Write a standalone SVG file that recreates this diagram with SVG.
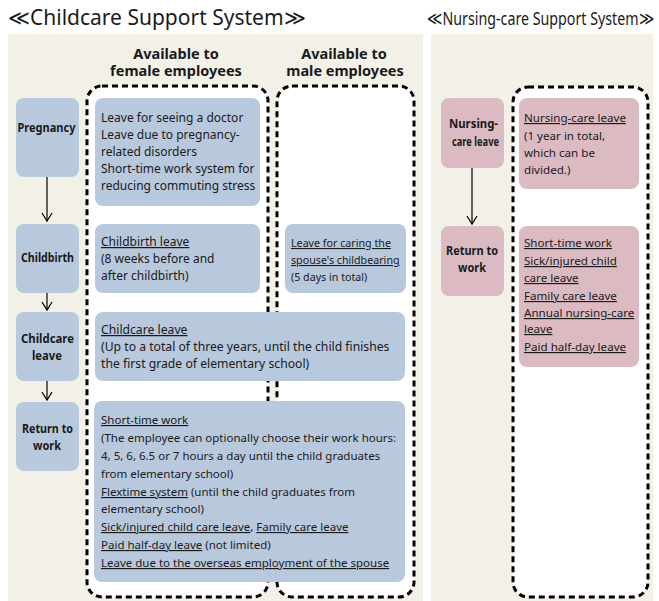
<svg xmlns="http://www.w3.org/2000/svg" width="659" height="601" viewBox="0 0 659 601">
<style>
text{font-family:"Noto Sans","Liberation Sans",sans-serif;fill:#1a1a1a}
.title{font-size:21px}
.hdr{font-size:14.5px;font-weight:bold;text-anchor:middle}
.stage{font-size:12px;font-weight:bold;text-anchor:middle}
.body{font-size:12px}
.cc{font-size:12.2px}
.rt{font-size:11.5px}
.pk{font-size:11.6px}
.small{font-size:10.7px}
.u{text-decoration:underline}
.panel{fill:#f3f0e8}
.dash{fill:#fff;stroke:#000;stroke-width:3;stroke-dasharray:6 4}
.blue{fill:#b9c9dd}
.pink{fill:#dcbac2}
.conn line{stroke:#000;stroke-width:1.2}
</style>
<defs>
<marker id="arr" markerWidth="12" markerHeight="12" refX="9" refY="6" orient="auto" markerUnits="userSpaceOnUse">
<path d="M1,1 L9,6 L1,11" fill="none" stroke="#000" stroke-width="1.2"/>
</marker>
</defs>
<rect width="659" height="601" fill="#fff"/>
<g id="panels">
<rect class="panel" x="8" y="34" width="415" height="567"/>
<rect class="panel" x="431" y="34" width="222" height="567"/>
</g>
<text class="title" x="8" y="25">≪Childcare Support System≫</text>
<text class="title" x="427" y="25" style="font-size:18.5px" textLength="227" lengthAdjust="spacingAndGlyphs">≪Nursing-care Support System≫</text>
<g id="headers">
<text class="hdr" x="176" y="58.5">Available to</text>
<text class="hdr" x="176" y="76">female employees</text>
<text class="hdr" x="344" y="58.5">Available to</text>
<text class="hdr" x="345" y="76">male employees</text>
</g>
<g id="dashed-boxes">
<rect class="dash" x="87" y="86" width="181" height="511" rx="15"/>
<rect class="dash" x="277" y="86" width="137" height="511" rx="15"/>
<rect class="dash" x="513" y="87" width="135" height="510" rx="15"/>
</g>
<g class="conn" id="connectors">
<line x1="47" y1="177" x2="47" y2="221" marker-end="url(#arr)"/>
<line x1="47" y1="293" x2="47" y2="310" marker-end="url(#arr)"/>
<line x1="47" y1="381" x2="47" y2="400" marker-end="url(#arr)"/>
<line x1="472" y1="168" x2="472" y2="224" marker-end="url(#arr)"/>
</g>
<g id="pregnancy">
<rect class="blue" x="16" y="98" width="63" height="79" rx="8"/>
<text class="stage" x="46.5" y="132" textLength="58" lengthAdjust="spacingAndGlyphs">Pregnancy</text>
</g>
<g id="childbirth">
<rect class="blue" x="16" y="224" width="63" height="69" rx="8"/>
<text class="stage" x="47.5" y="262" textLength="53" lengthAdjust="spacingAndGlyphs">Childbirth</text>
</g>
<g id="childcare-leave">
<rect class="blue" x="16" y="312" width="63" height="69" rx="8"/>
<text class="stage" x="47.5" y="343" textLength="53" lengthAdjust="spacingAndGlyphs">Childcare</text>
<text class="stage" x="47" y="360" textLength="30" lengthAdjust="spacingAndGlyphs">leave</text>
</g>
<g id="return-to-work">
<rect class="blue" x="16" y="402" width="63" height="69" rx="8"/>
<text class="stage" x="47.5" y="433" textLength="51" lengthAdjust="spacingAndGlyphs">Return to</text>
<text class="stage" x="47" y="450" textLength="28" lengthAdjust="spacingAndGlyphs">work</text>
</g>
<g id="pregnancy-support">
<rect class="blue" x="95" y="98" width="165" height="108" rx="8"/>
<text class="body" x="101" y="122">Leave for seeing a doctor</text>
<text class="body" x="101" y="139">Leave due to pregnancy-</text>
<text class="body" x="101" y="156">related disorders</text>
<text class="body" x="101" y="173">Short-time work system for</text>
<text class="body" x="101" y="190">reducing commuting stress</text>
</g>
<g id="childbirth-leave">
<rect class="blue" x="95" y="224" width="165" height="69" rx="8"/>
<text class="body" x="101" y="246"><tspan class="u">Childbirth leave</tspan></text>
<text class="body" x="101" y="263">(8 weeks before and</text>
<text class="body" x="101" y="280">after childbirth)</text>
</g>
<g id="spouse-childbearing">
<rect class="blue" x="285" y="224" width="121" height="69" rx="8"/>
<text class="small" x="291" y="247"><tspan class="u">Leave for caring the</tspan></text>
<text class="small" x="291" y="264"><tspan class="u">spouse's childbearing</tspan></text>
<text class="small" x="291" y="281">(5 days in total)</text>
</g>
<g id="childcare-leave-support">
<rect class="blue" x="95" y="312" width="310" height="69" rx="8"/>
<text class="cc" x="101" y="334"><tspan class="u">Childcare leave</tspan></text>
<text class="cc" x="101" y="351">(Up to a total of three years, until the child finishes</text>
<text class="cc" x="101" y="368">the first grade of elementary school)</text>
</g>
<g id="return-support">
<rect class="blue" x="94" y="401" width="311" height="181" rx="8"/>
<text class="rt" x="101" y="424"><tspan class="u">Short-time work</tspan></text>
<text class="rt" x="101" y="442">(The employee can optionally choose their work hours:</text>
<text class="rt" x="101" y="460">4, 5, 6, 6.5 or 7 hours a day until the child graduates</text>
<text class="rt" x="101" y="478">from elementary school)</text>
<text class="rt" x="101" y="496"><tspan class="u">Flextime system</tspan> (until the child graduates from</text>
<text class="rt" x="101" y="513">elementary school)</text>
<text class="rt" x="101" y="531"><tspan class="u">Sick/injured child care leave</tspan>, <tspan class="u">Family care leave</tspan></text>
<text class="rt" x="101" y="549"><tspan class="u">Paid half-day leave</tspan> (not limited)</text>
<text class="rt" x="101" y="567"><tspan class="u">Leave due to the overseas employment of the spouse</tspan></text>
</g>
<g id="nursing-care-leave">
<rect class="pink" x="441" y="98" width="63" height="70" rx="8"/>
<text class="stage" x="473.5" y="128" textLength="49" lengthAdjust="spacingAndGlyphs">Nursing-</text>
<text class="stage" x="475.5" y="146" textLength="47" lengthAdjust="spacingAndGlyphs">care leave</text>
</g>
<g id="nursing-return">
<rect class="pink" x="441" y="226" width="63" height="70" rx="8"/>
<text class="stage" x="472" y="255" textLength="52" lengthAdjust="spacingAndGlyphs">Return to</text>
<text class="stage" x="472" y="272" textLength="28" lengthAdjust="spacingAndGlyphs">work</text>
</g>
<g id="nursing-leave-support">
<rect class="pink" x="519" y="98" width="120" height="91" rx="8"/>
<text class="pk" x="524" y="122"><tspan class="u">Nursing-care leave</tspan></text>
<text class="pk" x="524" y="140">(1 year in total,</text>
<text class="pk" x="524" y="157">which can be</text>
<text class="pk" x="524" y="174">divided.)</text>
</g>
<g id="nursing-return-support">
<rect class="pink" x="519" y="226" width="120" height="141" rx="8"/>
<text class="pk" x="524" y="247"><tspan class="u">Short-time work</tspan></text>
<text class="pk" x="524" y="265"><tspan class="u">Sick/injured child</tspan></text>
<text class="pk" x="524" y="282"><tspan class="u">care leave</tspan></text>
<text class="pk" x="524" y="300"><tspan class="u">Family care leave</tspan></text>
<text class="pk" x="524" y="317"><tspan class="u">Annual nursing-care</tspan></text>
<text class="pk" x="524" y="333"><tspan class="u">leave</tspan></text>
<text class="pk" x="524" y="351"><tspan class="u">Paid half-day leave</tspan></text>
</g>
</svg>
